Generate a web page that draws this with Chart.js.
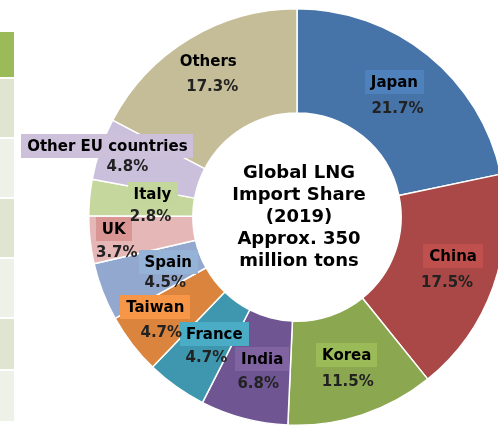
<!DOCTYPE html>
<html>
<head>
<meta charset="utf-8">
<script src="https://cdn.jsdelivr.net/npm/chart.js@4"></script>
<style>
  html, body { margin: 0; padding: 0; background: #fff; overflow: hidden; }
  #wrap { position: relative; width: 498px; height: 427px; overflow: hidden; }
  #lngChart { position: absolute; left: 0; top: 0; }
  .side-table { position: absolute; left: 0; width: 14px; }
</style>
</head>
<body>
<div id="wrap">
  <div class="side-table" style="top:32px;height:45px;background:#9bbb59"></div>
  <div class="side-table" style="top:79px;height:58px;background:#dee6d2"></div>
  <div class="side-table" style="top:139px;height:58px;background:#eef1e8"></div>
  <div class="side-table" style="top:199px;height:58px;background:#dee6d2"></div>
  <div class="side-table" style="top:259px;height:58px;background:#eef1e8"></div>
  <div class="side-table" style="top:319px;height:50px;background:#dee6d2"></div>
  <div class="side-table" style="top:371px;height:50px;background:#eef1e8"></div>
  <canvas id="lngChart" width="594" height="434"></canvas>
</div>
<script>
// import share by country, 2019 (%)
const countries = ['Japan', 'China', 'Korea', 'India', 'France', 'Taiwan', 'Spain', 'UK', 'Italy', 'Other EU countries', 'Others'];
const shares = [21.7, 17.5, 11.5, 6.8, 4.7, 4.7, 4.5, 3.7, 2.8, 4.8, 17.3];
const centerLines = ['Global LNG', 'Import Share', '(2019)', 'Approx. 350', 'million tons'];

const sliceColors = ['#4673a8', '#a94846', '#8ba850', '#6f5693', '#3e97ae', '#db843d', '#93a8cf', '#e5b8b7', '#c5d79d', '#cac0dc', '#c5bd98'];
const boxColors = ['#4f81bd', '#c0504d', '#9bbb59', '#8064a2', '#4bacc6', '#f79646', '#95b3d7', '#d99694', '#c3d69b', '#ccc0da', null];

// label nudges from each arc's mid point: [nameDx, nameDy, pctDx, pctDy]
const labelNudge = [
    [-1, -14, 2, 13],
    [9, -13, 3, 14],
    [1, -10, 2, 17],
    [5, -9, 1, 16],
    [8, -10, 0, 14],
    [-18, -5, -12, 21],
    [17, -11, 14, 10],
    [-28, -5, -25, 19],
    [11, -8, 9, 15],
    [-42, -20, -22, 1],
    [-8, -22, -4, 4]
];

const FONT = "'DejaVu Sans', Verdana, sans-serif";

const sliceLabels = {
    id: 'sliceLabels',
    afterDatasetsDraw(chart) {
        const ctx = chart.ctx;
        const arcs = chart.getDatasetMeta(0).data;
        ctx.save();
        ctx.textAlign = 'center';
        ctx.textBaseline = 'middle';
        arcs.forEach((arc, i) => {
            const p = arc.tooltipPosition();
            const [ndx, ndy, pdx, pdy] = labelNudge[i];
            const nx = p.x + ndx, ny = p.y + ndy;
            ctx.font = 'bold 15px ' + FONT;
            const w = ctx.measureText(countries[i]).width;
            if (boxColors[i]) {
                ctx.fillStyle = boxColors[i];
                ctx.fillRect(Math.round(nx - w / 2 - 6), Math.round(ny - 12), Math.round(w + 12), 24);
            }
            ctx.fillStyle = '#000';
            ctx.fillText(countries[i], nx, ny + 1);
            ctx.fillStyle = '#222';
            ctx.fillText(shares[i].toFixed(1) + '%', p.x + pdx, p.y + pdy);
        });

        // title in the hole
        const c = arcs[0];
        ctx.font = 'bold 18px ' + FONT;
        ctx.fillStyle = '#000';
        const lh = 22;
        const y0 = c.y - lh * (centerLines.length - 1) / 2;
        centerLines.forEach((line, k) => {
            ctx.fillText(line, c.x + 2, y0 + k * lh);
        });
        ctx.restore();
    }
};

new Chart(document.getElementById('lngChart'), {
    type: 'doughnut',
    data: {
        labels: countries,
        datasets: [{
            data: shares,
            backgroundColor: sliceColors,
            borderColor: '#fff',
            borderWidth: 1.5
        }]
    },
    options: {
        responsive: false,
        animation: false,
        cutout: '50%',
        layout: { padding: { top: 8, bottom: 8, left: 0, right: 0 } },
        plugins: {
            legend: { display: false },
            tooltip: { enabled: false }
        }
    },
    plugins: [sliceLabels]
});
</script>
</body>
</html>
